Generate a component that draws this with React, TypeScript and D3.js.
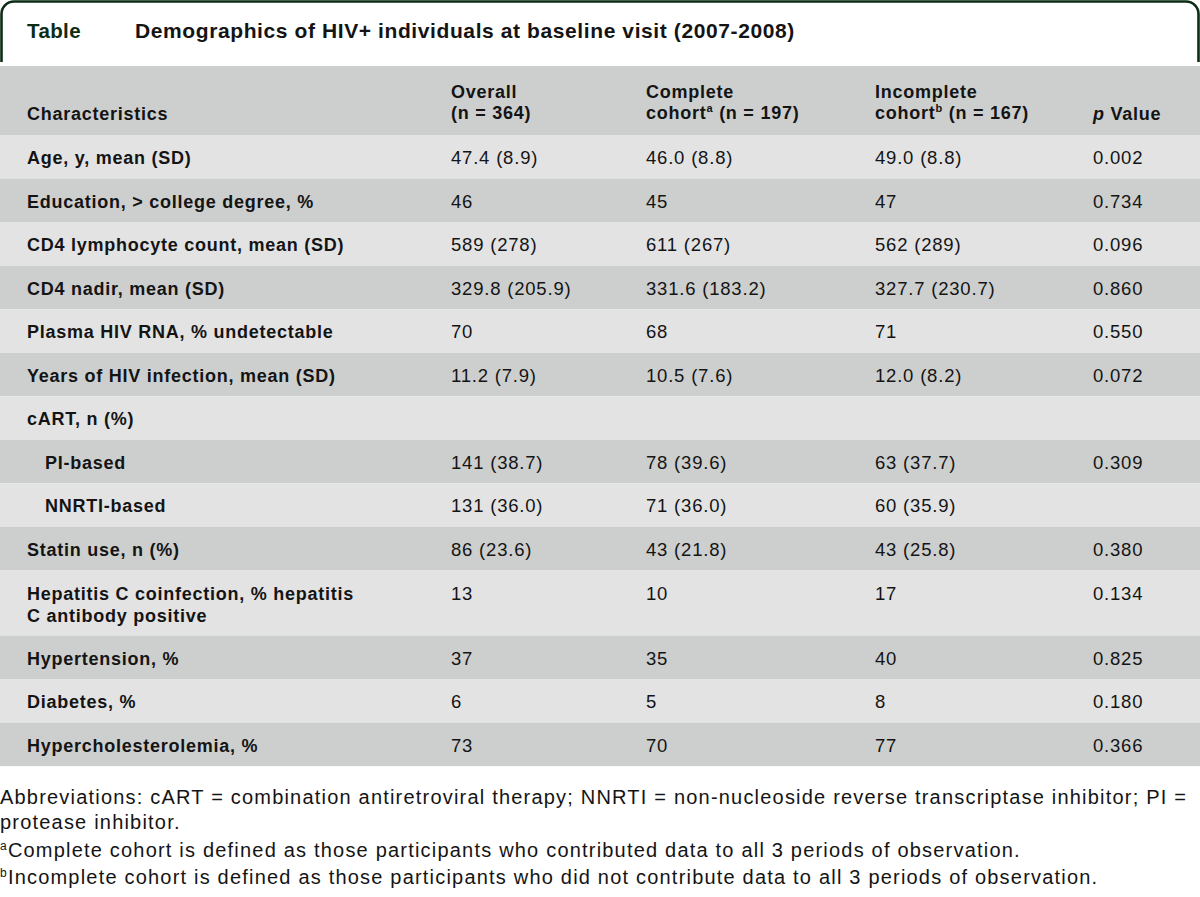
import React from "react";
import * as d3 from "d3";

const titleLabel = "Table";
const titleText = "Demographics of HIV+ individuals at baseline visit (2007-2008)";

const characteristics = [
  "Age, y, mean (SD)",
  "Education, > college degree, %",
  "CD4 lymphocyte count, mean (SD)",
  "CD4 nadir, mean (SD)",
  "Plasma HIV RNA, % undetectable",
  "Years of HIV infection, mean (SD)",
  "cART, n (%)",
  "PI-based",
  "NNRTI-based",
  "Statin use, n (%)",
  "Hepatitis C coinfection, % hepatitis|C antibody positive",
  "Hypertension, %",
  "Diabetes, %",
  "Hypercholesterolemia, %",
];
const indented = [false, false, false, false, false, false, false, true, true, false, false, false, false, false];
const overall = ["47.4 (8.9)", "46", "589 (278)", "329.8 (205.9)", "70", "11.2 (7.9)", "", "141 (38.7)", "131 (36.0)", "86 (23.6)", "13", "37", "6", "73"];
const complete = ["46.0 (8.8)", "45", "611 (267)", "331.6 (183.2)", "68", "10.5 (7.6)", "", "78 (39.6)", "71 (36.0)", "43 (21.8)", "10", "35", "5", "70"];
const incomplete = ["49.0 (8.8)", "47", "562 (289)", "327.7 (230.7)", "71", "12.0 (8.2)", "", "63 (37.7)", "60 (35.9)", "43 (25.8)", "17", "40", "8", "77"];
const pValues = ["0.002", "0.734", "0.096", "0.860", "0.550", "0.072", "", "0.309", "", "0.380", "0.134", "0.825", "0.180", "0.366"];

const footnotes = [
  { sup: "", text: "Abbreviations: cART = combination antiretroviral therapy; NNRTI = non-nucleoside reverse transcriptase inhibitor; PI =" },
  { sup: "", text: "protease inhibitor." },
  { sup: "a", text: "Complete cohort is defined as those participants who contributed data to all 3 periods of observation." },
  { sup: "b", text: "Incomplete cohort is defined as those participants who did not contribute data to all 3 periods of observation." },
];

const W = 1200;
const H = 897;
const FONT = "'Liberation Sans', Arial, Helvetica, sans-serif";
const TEXT = "#141414";
const GREEN = "#0c2c14";
const HEADER_BG = "#cdcfce";
const LIGHT_BG = "#e3e3e4";

export default function App() {
  const headerTop = 66;
  const headerBottom = 135;
  const unitH = 43.55;
  const heights = characteristics.map((c) => (c.includes("|") ? 65 : unitH));
  const tops = [headerBottom, ...Array.from(d3.cumsum(heights)).map((v) => headerBottom + v)];

  const colX = d3.scaleOrdinal<string, number>()
    .domain(["char", "overall", "complete", "incomplete", "p"])
    .range([27, 451, 646, 875, 1093]);

  const boldStyle: React.CSSProperties = { letterSpacing: "0.75px" };
  const cellStyle: React.CSSProperties = { letterSpacing: "0.8px" };

  return (
    <svg width={W} height={H} style={{ position: "absolute", left: 0, top: 0, background: "#fff" }} fontFamily={FONT}>
      {/* title tab */}
      <path
        d={`M1.5,62 L1.5,14 A12.5,12.5 0 0 1 14,1.5 L1186,1.5 A12.5,12.5 0 0 1 1198.5,14 L1198.5,62`}
        fill="none"
        stroke={GREEN}
        strokeWidth={2.6}
      />
      <text x={27} y={38} fontSize={20.5} fontWeight="bold" fill={GREEN} style={{ letterSpacing: "0.4px" }}>{titleLabel}</text>
      <text x={135} y={38} fontSize={21} fontWeight="bold" fill={TEXT} style={{ letterSpacing: "0.6px" }}>{titleText}</text>

      {/* header */}
      <rect x={0} y={headerTop} width={W} height={headerBottom - headerTop} fill={HEADER_BG} />
      <g fontSize={18} fontWeight="bold" fill={TEXT} style={boldStyle}>
        <text x={colX("char")} y={120}>Characteristics</text>
        <text x={colX("overall")} y={98}>Overall</text>
        <text x={colX("overall")} y={119}>(n = 364)</text>
        <text x={colX("complete")} y={98}>Complete</text>
        <text x={colX("complete")} y={119}>cohort<tspan fontSize={11} dy={-7}>a</tspan><tspan dy={7}> (n = 197)</tspan></text>
        <text x={colX("incomplete")} y={98}>Incomplete</text>
        <text x={colX("incomplete")} y={119}>cohort<tspan fontSize={11} dy={-7}>b</tspan><tspan dy={7}> (n = 167)</tspan></text>
        <text x={colX("p")} y={120}><tspan fontStyle="italic">p</tspan> Value</text>
      </g>

      {/* body rows */}
      {characteristics.map((c, i) => {
        const y0 = tops[i];
        const h = heights[i];
        const base = y0 + 29;
        const lines = c.split("|");
        const cx = colX("char") + (indented[i] ? 18 : 0);
        return (
          <g key={i}>
            <rect x={0} y={y0} width={W} height={h} fill={i % 2 === 0 ? LIGHT_BG : HEADER_BG} />
            <text x={cx} y={base} fontSize={18} fontWeight="bold" fill={TEXT} style={boldStyle}>
              {lines.map((l, k) => (
                <tspan key={k} x={cx} y={base + k * 22.5}>{l}</tspan>
              ))}
            </text>
            <g fontSize={18.5} fill={TEXT} style={cellStyle}>
              <text x={colX("overall")} y={base}>{overall[i]}</text>
              <text x={colX("complete")} y={base}>{complete[i]}</text>
              <text x={colX("incomplete")} y={base}>{incomplete[i]}</text>
              <text x={colX("p")} y={base}>{pValues[i]}</text>
            </g>
          </g>
        );
      })}

      {/* footnotes */}
      <g fontSize={20} fill={TEXT} style={{ letterSpacing: "1.2px" }}>
        {footnotes.map((f, i) => {
          const ys = [804, 829, 857, 884];
          return (
            <text key={i} x={0} y={ys[i]}>
              {f.sup ? <tspan fontSize={12} dy={-7}>{f.sup}</tspan> : null}
              {f.sup ? <tspan dy={7}>{f.text}</tspan> : f.text}
            </text>
          );
        })}
      </g>
    </svg>
  );
}
